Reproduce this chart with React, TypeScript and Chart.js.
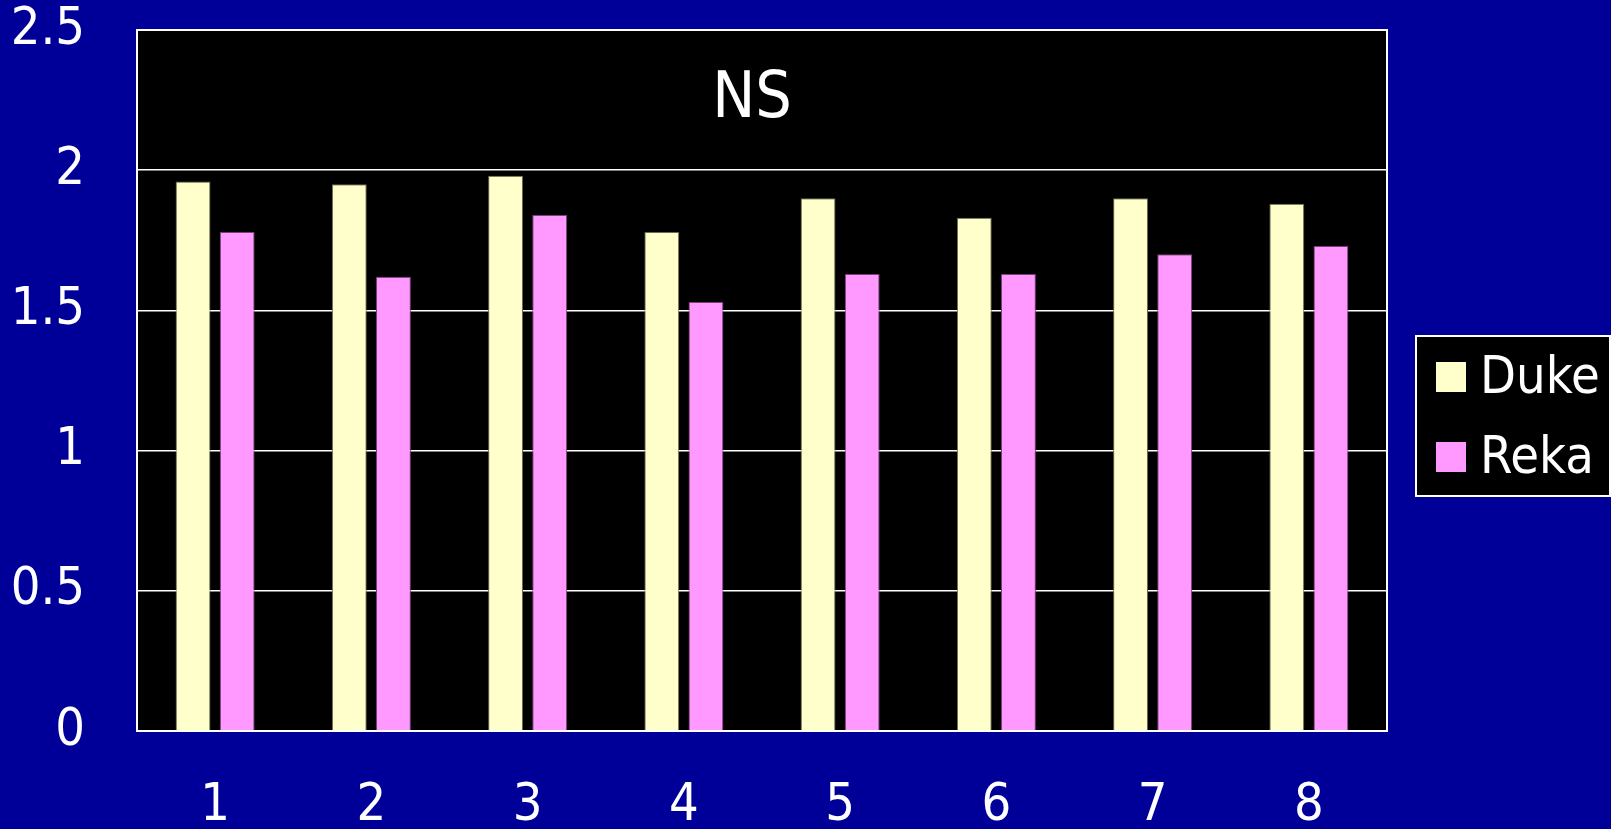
import React, { useEffect, useRef } from "react";
import { Chart, registerables } from "chart.js";

Chart.register(...registerables);

const categories = ["1", "2", "3", "4", "5", "6", "7", "8"];
const dukeValues = [1.96, 1.95, 1.98, 1.78, 1.9, 1.83, 1.9, 1.88];
const rekaValues = [1.78, 1.62, 1.84, 1.53, 1.63, 1.63, 1.7, 1.73];
const seriesNames = ["Duke", "Reka"];
const annotationText = "NS";
const yMin = 0;
const yMax = 2.5;
const yStep = 0.5;

const FONT = "'DejaVu Sans Condensed', 'DejaVu Sans', sans-serif";

const framePlugin = {
  id: "frame",
  beforeDraw(chart: any) {
    const { ctx, chartArea } = chart;
    ctx.save();
    ctx.fillStyle = "#000000";
    ctx.fillRect(chartArea.left, chartArea.top, chartArea.right - chartArea.left, chartArea.bottom - chartArea.top);
    ctx.restore();
  },
  afterDraw(chart: any) {
    const { ctx, chartArea } = chart;
    ctx.save();
    ctx.strokeStyle = "#ffffff";
    ctx.lineWidth = 2;
    ctx.strokeRect(chartArea.left, chartArea.top, chartArea.right - chartArea.left, chartArea.bottom - chartArea.top);
    // NS annotation
    ctx.fillStyle = "#ffffff";
    ctx.font = `64px ${FONT}`;
    ctx.textAlign = "center";
    ctx.textBaseline = "middle";
    const cx = (chartArea.left + chartArea.right) / 2 - 10;
    const cy = chart.scales.y.getPixelForValue(2.25);
    ctx.fillText(annotationText, cx, cy);
    // legend
    const lx = 1416, ly = 336, lw = 194, lh = 160;
    ctx.fillStyle = "#000000";
    ctx.fillRect(lx, ly, lw, lh);
    ctx.strokeStyle = "#ffffff";
    ctx.lineWidth = 2;
    ctx.strokeRect(lx, ly, lw, lh);
    ctx.font = `52px ${FONT}`;
    ctx.textAlign = "left";
    chart.data.datasets.forEach((ds: any, i: number) => {
      const rowY = 377 + i * 80;
      ctx.fillStyle = ds.backgroundColor;
      ctx.fillRect(1436, rowY - 15, 30, 30);
      ctx.fillStyle = "#ffffff";
      ctx.fillText(ds.label, 1480, rowY + 2);
    });
    ctx.restore();
  },
};

export default function App() {
  const ref = useRef<HTMLCanvasElement>(null);
  useEffect(() => {
    if (!ref.current) return;
    const chart = new Chart(ref.current, {
      type: "bar",
      data: {
        labels: categories,
        datasets: [
          {
            label: seriesNames[0],
            data: dukeValues,
            backgroundColor: "#FFFFCC",
            borderColor: "#6b6b50",
            borderWidth: 1,
            categoryPercentage: 0.565,
            barPercentage: 0.79,
          },
          {
            label: seriesNames[1],
            data: rekaValues,
            backgroundColor: "#FF99FF",
            borderColor: "#7a3f7a",
            borderWidth: 1,
            categoryPercentage: 0.565,
            barPercentage: 0.79,
          },
        ],
      },
      options: {
        animation: false,
        responsive: false,
        maintainAspectRatio: false,
        layout: { padding: { top: 30, right: 224, left: 0, bottom: 0 } },
        plugins: { legend: { display: false }, tooltip: { enabled: false } },
        scales: {
          x: {
            grid: { display: false, drawTicks: false },
            border: { display: false },
            ticks: { color: "#ffffff", font: { family: FONT, size: 52 }, padding: 44 },
            afterFit(scale: any) {
              scale.height = 98;
              scale.paddingLeft = 0;
              scale.paddingRight = 0;
            },
          },
          y: {
            min: yMin,
            max: yMax,
            grid: { color: "#ffffff", lineWidth: 1.5, drawTicks: false },
            border: { display: false },
            ticks: {
              stepSize: yStep,
              color: "#ffffff",
              font: { family: FONT, size: 52 },
              padding: 52,
              callback: (v: any) => String(Number(v)),
            },
            afterFit(scale: any) {
              scale.width = 137;
              scale.paddingTop = 0;
              scale.paddingBottom = 0;
            },
          },
        },
      },
      plugins: [framePlugin],
    });
    return () => chart.destroy();
  }, []);
  return (
    <div style={{ position: "fixed", left: 0, top: 0, width: 1611, height: 829, background: "#000099" }}>
      <canvas ref={ref} width={1611} height={829} style={{ display: "block" }} />
    </div>
  );
}
